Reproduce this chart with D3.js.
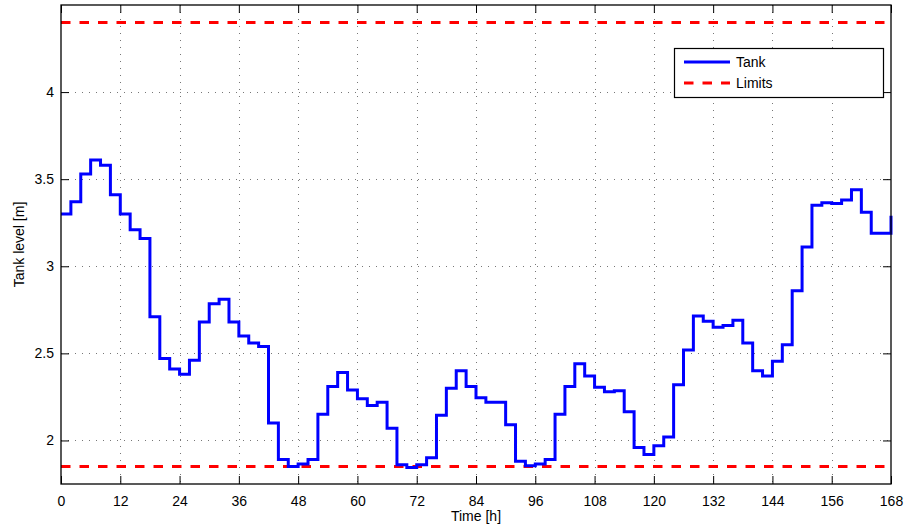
<!DOCTYPE html>
<html>
<head>
<meta charset="utf-8">
<script src="https://cdn.jsdelivr.net/npm/d3@7"></script>
<style>
  body { margin: 0; background: #fff; }
  text { font-family: "Liberation Sans", Arial, sans-serif; fill: #000; }
</style>
</head>
<body>
<div id="chart"></div>
<script>
// time in hours, level in metres (2h steps)
var hours = [0, 2, 4, 6, 8, 10, 12, 14, 16, 18, 20, 22, 24, 26, 28, 30, 32, 34, 36, 38,
  40, 42, 44, 46, 48, 50, 52, 54, 56, 58, 60, 62, 64, 66, 68, 70, 72, 74, 76, 78,
  80, 82, 84, 86, 88, 90, 92, 94, 96, 98, 100, 102, 104, 106, 108, 110, 112, 114, 116, 118,
  120, 122, 124, 126, 128, 130, 132, 134, 136, 138, 140, 142, 144, 146, 148, 150, 152, 154, 156, 158,
  160, 162, 164, 166, 168];
var tankLevel = [3.30, 3.37, 3.53, 3.61, 3.58, 3.41, 3.30, 3.21, 3.16, 2.71, 2.47, 2.41, 2.38, 2.46, 2.68, 2.785, 2.81, 2.68, 2.60, 2.56,
  2.54, 2.10, 1.89, 1.85, 1.865, 1.89, 2.15, 2.31, 2.39, 2.29, 2.24, 2.20, 2.22, 2.07, 1.86, 1.845, 1.86, 1.90, 2.145, 2.30,
  2.40, 2.31, 2.245, 2.22, 2.22, 2.09, 1.88, 1.855, 1.865, 1.89, 2.15, 2.31, 2.44, 2.37, 2.305, 2.28, 2.285, 2.165, 1.96, 1.92,
  1.97, 2.02, 2.32, 2.52, 2.715, 2.685, 2.65, 2.66, 2.69, 2.56, 2.40, 2.37, 2.455, 2.55, 2.86, 3.11, 3.35, 3.365, 3.36, 3.38,
  3.44, 3.31, 3.19, 3.19, 3.29];
var limits = [1.85, 4.4];
var xTicks = [0, 12, 24, 36, 48, 60, 72, 84, 96, 108, 120, 132, 144, 156, 168];
var yTicks = [2, 2.5, 3, 3.5, 4];

var W = 904, H = 526;
var margin = { top: 5, right: 13, bottom: 42, left: 61 },
  width = W - margin.left - margin.right,
  height = H - margin.top - margin.bottom;

var svg = d3.select("#chart").append("svg")
  .attr("width", W).attr("height", H)
  .append("g")
  .attr("transform", "translate(" + margin.left + "," + margin.top + ")");

var x = d3.scaleLinear().domain([0, 168]).range([0, width]);
var y = d3.scaleLinear().domain([1.75, 4.5]).range([height, 0]);

// dotted grid
svg.append("g").selectAll("line.gx")
  .data(xTicks.slice(1, -1)).enter().append("line")
  .attr("x1", function (d) { return Math.round(x(d)) + 0.5; })
  .attr("x2", function (d) { return Math.round(x(d)) + 0.5; })
  .attr("y1", 0).attr("y2", height)
  .attr("stroke", "#777").attr("stroke-dasharray", "1,6");
svg.append("g").selectAll("line.gy")
  .data(yTicks).enter().append("line")
  .attr("y1", function (d) { return Math.round(y(d)) + 0.5; })
  .attr("y2", function (d) { return Math.round(y(d)) + 0.5; })
  .attr("x1", 0).attr("x2", width)
  .attr("stroke", "#777").attr("stroke-dasharray", "1,6");

// axes with inward ticks (MATLAB box style)
var fmt = function (d) { return String(d); };
var gx = svg.append("g").attr("transform", "translate(0," + height + ")")
  .call(d3.axisBottom(x).tickValues(xTicks).tickFormat(fmt).tickSizeInner(-8).tickSizeOuter(0).tickPadding(12));
var gxTop = svg.append("g")
  .call(d3.axisTop(x).tickValues(xTicks).tickFormat("").tickSizeInner(-8).tickSizeOuter(0));
var gy = svg.append("g")
  .call(d3.axisLeft(y).tickValues(yTicks).tickFormat(fmt).tickSizeInner(-8).tickSizeOuter(0).tickPadding(7));
var gyRight = svg.append("g").attr("transform", "translate(" + width + ",0)")
  .call(d3.axisRight(y).tickValues(yTicks).tickFormat("").tickSizeInner(-8).tickSizeOuter(0));

[gx, gxTop, gy, gyRight].forEach(function (g) {
  g.select(".domain").remove();
  g.selectAll("line").attr("stroke", "#000");
  g.selectAll("text").style("font-size", "14px").style("font-family", "Liberation Sans, Arial, sans-serif");
});

// limits
svg.append("g").selectAll("line.lim")
  .data(limits).enter().append("line")
  .attr("x1", 0).attr("x2", width)
  .attr("y1", function (d) { return y(d); })
  .attr("y2", function (d) { return y(d); })
  .attr("stroke", "#ff0000").attr("stroke-width", 3)
  .attr("stroke-dasharray", "9.5,9");

// tank level step line
var pts = hours.map(function (h, i) { return [h, tankLevel[i]]; });
svg.append("path")
  .datum(pts)
  .attr("fill", "none")
  .attr("stroke", "#0000ff")
  .attr("stroke-width", 3)
  .attr("stroke-linejoin", "miter")
  .attr("d", d3.line()
    .x(function (d) { return x(d[0]); })
    .y(function (d) { return y(d[1]); })
    .curve(d3.curveStepAfter));

// box
svg.append("rect")
  .attr("x", 0).attr("y", 0).attr("width", width).attr("height", height)
  .attr("fill", "none").attr("stroke", "#000").attr("stroke-width", 1.3);

// axis titles
svg.append("text")
  .attr("x", width / 2).attr("y", height + 37)
  .attr("text-anchor", "middle").style("font-size", "14px")
  .text("Time [h]");
svg.append("text")
  .attr("transform", "translate(" + (-37) + "," + (height / 2) + ") rotate(-90)")
  .attr("text-anchor", "middle").style("font-size", "14px")
  .text("Tank level [m]");

// legend
var lg = svg.append("g").attr("transform", "translate(" + (674 - margin.left) + "," + (48 - margin.top) + ")");
lg.append("rect").attr("x", 0.5).attr("y", 0.5).attr("width", 209).attr("height", 49)
  .attr("fill", "#fff").attr("stroke", "#000").attr("stroke-width", 1.2);
var entries = [
  { name: "Tank", color: "#0000ff", dash: null },
  { name: "Limits", color: "#ff0000", dash: "9.5,9" }
];
entries.forEach(function (e, i) {
  var yy = 14 + i * 21;
  lg.append("line").attr("x1", 10).attr("x2", 56).attr("y1", yy).attr("y2", yy)
    .attr("stroke", e.color).attr("stroke-width", 3)
    .attr("stroke-dasharray", e.dash);
  lg.append("text").attr("x", 62).attr("y", yy + 5).style("font-size", "14px").text(e.name);
});
</script>
</body>
</html>
